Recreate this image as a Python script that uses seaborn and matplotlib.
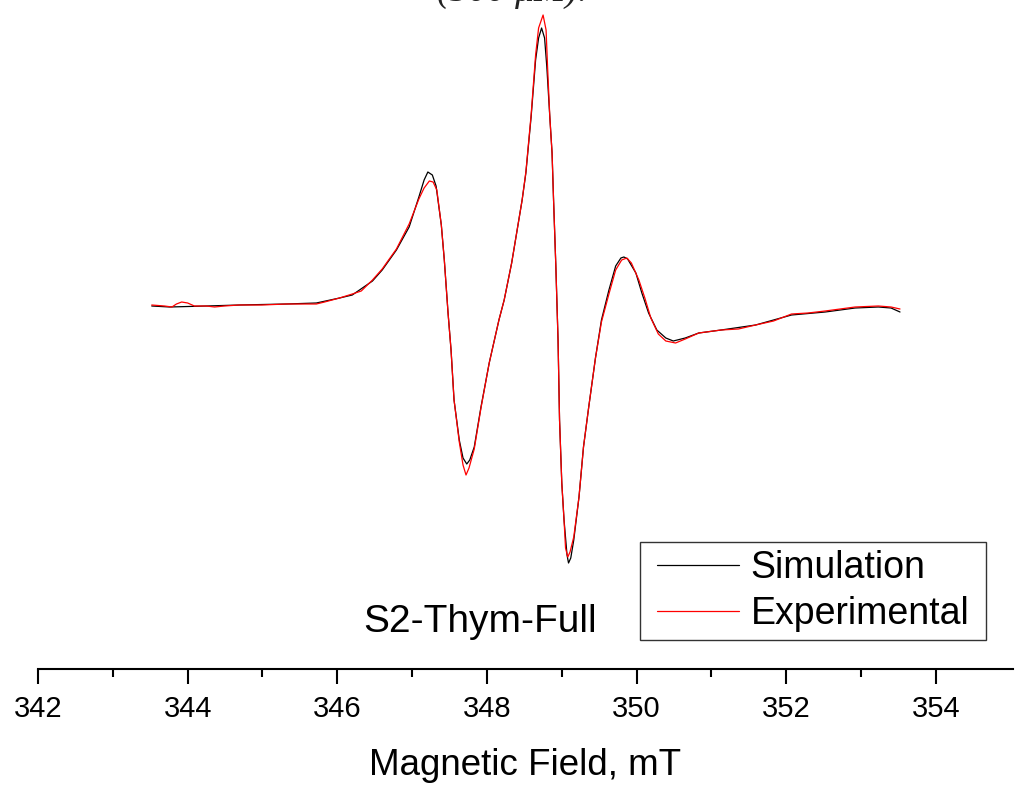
import numpy as np
import pandas as pd
import matplotlib
matplotlib.use("Agg")
import matplotlib.pyplot as plt
from matplotlib.lines import Line2D
from matplotlib.patches import Rectangle
import seaborn as sns

# EPR spectrum, magnetic field in mT, first-derivative intensity in arbitrary units
sim_field = [343.52, 343.76, 344.25, 344.69, 345.32, 345.72, 346.03, 346.20, 346.47, 346.60,
             346.79, 346.96, 347.09, 347.16, 347.21, 347.27, 347.32, 347.39, 347.43, 347.48,
             347.52, 347.56, 347.63, 347.68, 347.73, 347.77, 347.83, 347.92, 348.03, 348.16,
             348.23, 348.33, 348.47, 348.52, 348.59, 348.65, 348.69, 348.73, 348.77, 348.80,
             348.84, 348.87, 348.89, 348.92, 348.95, 348.97, 349.00, 349.03, 349.07, 349.09,
             349.12, 349.16, 349.23, 349.29, 349.36, 349.45, 349.53, 349.63, 349.72, 349.79,
             349.83, 349.88, 349.99, 350.07, 350.16, 350.27, 350.39, 350.49, 350.65, 350.83,
             351.13, 351.59, 352.07, 352.52, 352.92, 353.23, 353.40, 353.52]
sim_signal = [-1, -2, -1, 0, 1, 2, 7, 10, 24, 35,
              55, 78, 108, 125, 133, 130, 119, 80, 45, -8,
              -45, -95, -135, -153, -159, -155, -142, -102, -58, -15,
              5, 42, 105, 132, 188, 245, 267, 277, 267, 238,
              188, 152, 105, 40, -35, -115, -178, -215, -250, -258,
              -253, -235, -192, -142, -102, -53, -15, 15, 39, 47,
              48, 46, 32, 12, -8, -25, -33, -36, -33, -28,
              -25, -20, -10, -7, -3, -2, -3, -7]

exp_field = [343.52, 343.69, 343.79, 343.85, 343.92, 344.00, 344.09, 344.25, 344.36, 344.49,
             344.69, 344.99, 345.32, 345.49, 345.72, 345.83, 346.03, 346.20, 346.32, 346.47,
             346.60, 346.79, 346.96, 347.09, 347.16, 347.23, 347.28, 347.33, 347.39, 347.43,
             347.48, 347.52, 347.56, 347.63, 347.68, 347.72, 347.76, 347.83, 347.92, 348.03,
             348.16, 348.23, 348.33, 348.47, 348.52, 348.59, 348.65, 348.69, 348.75, 348.79,
             348.81, 348.84, 348.87, 348.89, 348.92, 348.95, 348.97, 349.00, 349.03, 349.05,
             349.08, 349.11, 349.16, 349.23, 349.29, 349.36, 349.45, 349.53, 349.63, 349.72,
             349.80, 349.87, 349.93, 350.03, 350.11, 350.19, 350.29, 350.39, 350.52, 350.65,
             350.83, 351.13, 351.36, 351.59, 351.83, 352.07, 352.29, 352.52, 352.92, 353.23,
             353.40, 353.52]
exp_signal = [0, -1, -2, 1, 3, 2, -1, -1, -2, -1,
              0, 0, 1, 1, 1, 3, 7, 11, 14, 25,
              36, 56, 81, 106, 117, 124, 123, 115, 80, 45,
              -8, -45, -95, -137, -160, -170, -163, -144, -103, -58,
              -15, 5, 42, 105, 133, 190, 250, 277, 290, 275,
              238, 188, 152, 105, 40, -35, -115, -178, -215, -243,
              -252, -247, -232, -192, -142, -102, -53, -17, 11, 35,
              45, 47, 42, 25, 7, -13, -29, -36, -38, -34,
              -28, -25, -24, -20, -16, -9, -8, -6, -2, -1,
              -2, -4]

series_names = ["Simulation", "Experimental"]
series_colors = ["#000000", "#ff0000"]
sample_label = "S2-Thym-Full"
x_label = "Magnetic Field, mT"
x_ticks = [342, 344, 346, 348, 350, 352, 354]
header_text = "(500 \u03bcM)."

sns.set_theme(style="white")
plt.rcParams["font.family"] = ["Liberation Sans", "DejaVu Sans"]
plt.rcParams["text.color"] = "black"
plt.rcParams["axes.labelcolor"] = "black"
plt.rcParams["xtick.color"] = "black"

fig = plt.figure(figsize=(10.17, 7.87), dpi=100)
ax = fig.add_axes([38 / 1017, 118 / 787, 975 / 1017, 669 / 787])

df = pd.concat([
    pd.DataFrame({"field": sim_field, "signal": sim_signal, "trace": series_names[0]}),
    pd.DataFrame({"field": exp_field, "signal": exp_signal, "trace": series_names[1]}),
], ignore_index=True)

for name, color in zip(series_names, series_colors):
    sub = df[df["trace"] == name]
    sns.lineplot(data=sub, x="field", y="signal", ax=ax, color=color,
                 linewidth=0.9, sort=False, estimator=None, legend=False)

ax.set_xlim(342, 355.03)
ax.set_ylim(-364, 305)

# only the bottom axis is shown
for side in ["left", "right", "top"]:
    ax.spines[side].set_visible(False)
ax.spines["bottom"].set_linewidth(1.5)
ax.spines["bottom"].set_color("black")
ax.set_yticks([])
ax.set_ylabel("")
ax.set_xticks(x_ticks)
ax.set_xticks(np.arange(343, 355, 2), minor=True)
ax.tick_params(axis="x", which="major", direction="out", length=11, width=1.5,
               labelsize=21, pad=8, colors="black", bottom=True)
ax.tick_params(axis="x", which="minor", direction="out", length=6, width=1.5,
               bottom=True)
ax.set_xlabel(x_label, fontsize=26.5, labelpad=18, color="black")

ax.text(347.91, -317, sample_label, fontsize=28, ha="center", va="center", color="black")

# legend without its own frame; a box with wider side margins is drawn around it
handles = [Line2D([], [], color=c, linewidth=0.9) for c in series_colors]
leg = ax.legend(handles, series_names, loc="upper right", bbox_to_anchor=(0.955, 0.178),
                borderaxespad=0, fontsize=27, frameon=False,
                handlelength=2.2, handletextpad=0.3, labelspacing=0.27, borderpad=0.0)
fig.canvas.draw()
bb = leg.get_window_extent().transformed(fig.transFigure.inverted())
padx, pady = 17 / 1017, 8 / 787
frame = Rectangle((bb.x0 - padx, bb.y0 - pady), bb.width + 2 * padx, bb.height + 2 * pady,
                  transform=fig.transFigure, fill=False, edgecolor="#333333",
                  linewidth=1.0, zorder=5)
fig.patches.append(frame)

fig.text(512 / 1017, 1 - 0.5 / 787, header_text, fontsize=27, ha="center",
         va="baseline", family=["Liberation Serif", "DejaVu Serif"], style="italic",
         color="#222222")

fig.savefig("out.png", dpi=100)
